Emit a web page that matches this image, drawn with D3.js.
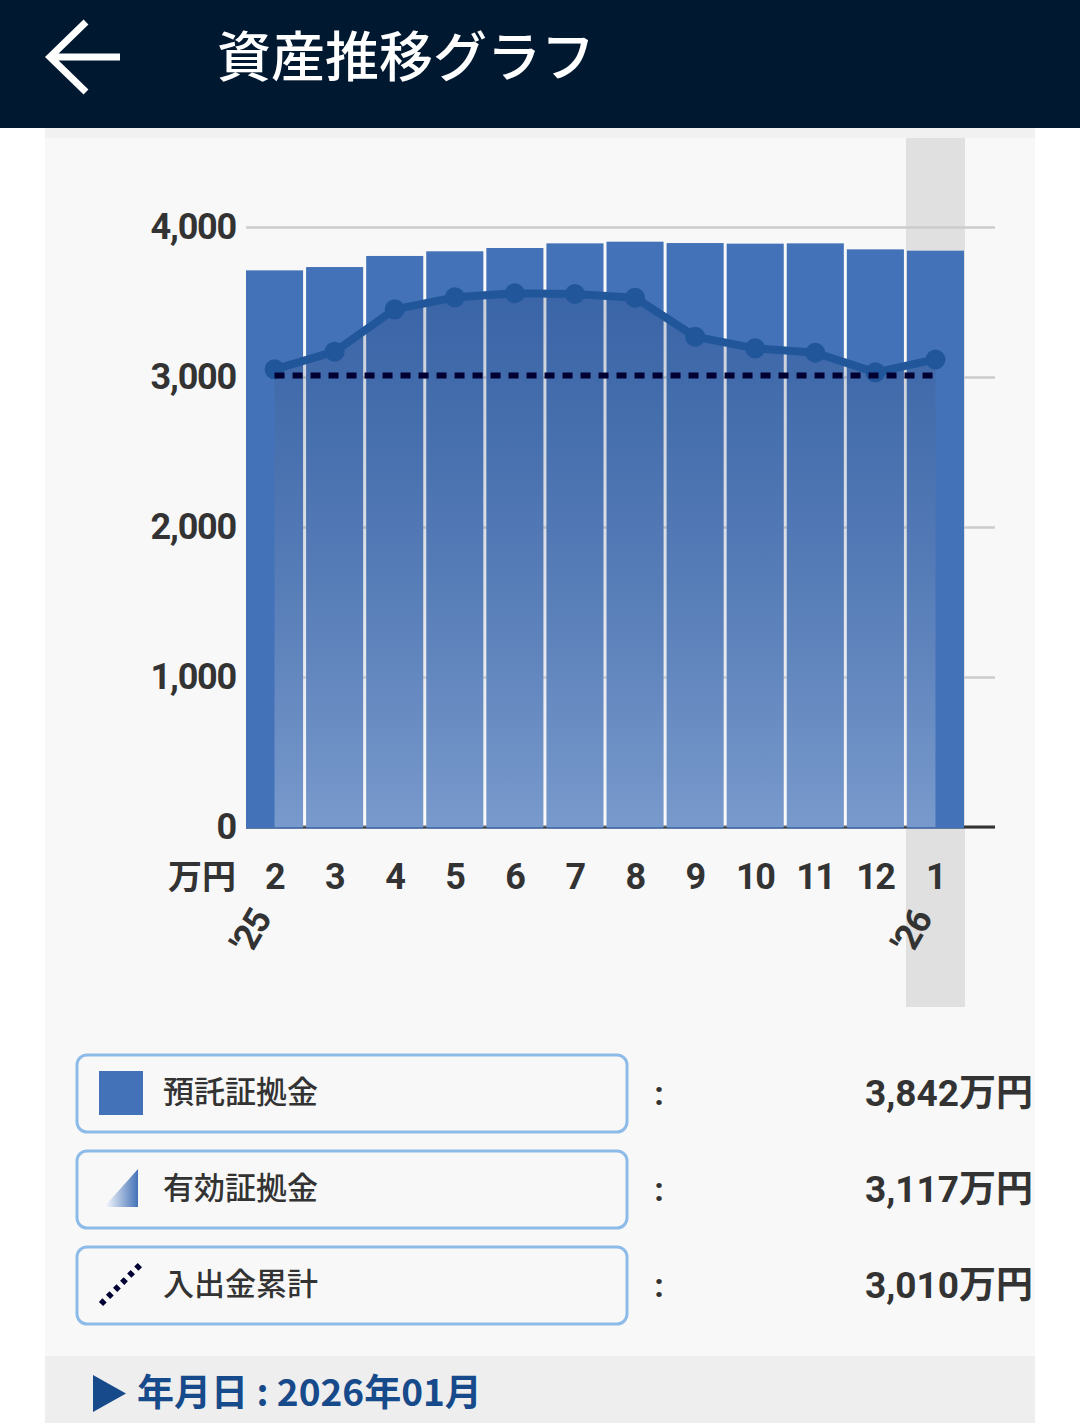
<!DOCTYPE html>
<html lang="ja">
<head>
<meta charset="utf-8">
<title>資産推移グラフ</title>
<script src="https://cdn.jsdelivr.net/npm/d3@7"></script>
<style>
  html, body { margin: 0; padding: 0; background: #fff; }
  svg { display: block; }
</style>
</head>
<body>
<svg id="chart" width="1080" height="1423"></svg>
<script>
// 月ごとのデータ（万円）
const months = ["2", "3", "4", "5", "6", "7", "8", "9", "10", "11", "12", "1"];
const yearLabels = ["'25", "", "", "", "", "", "", "", "", "", "", "'26"];
const deposit = [3711, 3733, 3807, 3838, 3860, 3891, 3902, 3893, 3889, 3891, 3851, 3842];
const effective = [3051, 3169, 3451, 3531, 3558, 3553, 3529, 3269, 3191, 3162, 3031, 3117];
const cumulative = [3010, 3010, 3010, 3010, 3010, 3010, 3010, 3010, 3010, 3010, 3010, 3010];
const yTicks = [0, 1000, 2000, 3000, 4000];
const unitLabel = "万円";
const legendNames = ["預託証拠金", "有効証拠金", "入出金累計"];
const legendValues = ["3,842万円", "3,117万円", "3,010万円"];
const selectedIndex = 11;
const titleText = "資産推移グラフ";
const dateText = "年月日 : 2026年01月";

const NUM_FONT = "Roboto, 'Noto Sans CJK JP', sans-serif";
const JP_FONT = "'Noto Sans CJK JP', 'Noto Sans', sans-serif";
const BAR = "#4472b8";
const TEXT = "#333333";

const svg = d3.select("#chart");

function drawFrame() {
  // 背景パネル
  svg.append("rect").attr("x", 45).attr("y", 128).attr("width", 990).attr("height", 1295).attr("fill", "#f8f8f8");
  svg.append("rect").attr("x", 45).attr("y", 128).attr("width", 990).attr("height", 10).attr("fill", "#f1f1f1");

  // ヘッダー
  svg.append("rect").attr("x", 0).attr("y", 0).attr("width", 1080).attr("height", 128).attr("fill", "#011831");
  svg.append("path")
    .attr("d", "M86,22 L50,57 L86,92 M50,57 L120,57")
    .attr("fill", "none")
    .attr("stroke", "#fff")
    .attr("stroke-width", 7);
  svg.append("text")
    .attr("x", 217).attr("y", 77)
    .attr("fill", "#fff")
    .style("font-family", JP_FONT)
    .style("font-size", "54px")
    .style("font-weight", 500)
    .text(titleText);

  // 下部の日付バー
  svg.append("rect").attr("x", 45).attr("y", 1356).attr("width", 990).attr("height", 67).attr("fill", "#eeeeee");
  svg.append("path").attr("d", "M93,1375 L126,1393.5 L93,1412 Z").attr("fill", "#174a8a");
  svg.append("text")
    .attr("x", 137).attr("y", 1406)
    .attr("fill", "#174a8a")
    .style("font-family", JP_FONT)
    .style("font-size", "37px")
    .style("font-weight", 700)
    .text(dateText);
}

function drawChart() {
  const x = d3.scaleBand().domain(d3.range(months.length)).range([246, 964]).paddingInner(0.05);
  const y = d3.scaleLinear().domain([0, 4000]).range([827, 227]);
  const cx = (i) => x(i) + x.bandwidth() / 2;

  // 選択中の月のハイライト
  svg.append("rect")
    .attr("x", x(selectedIndex) - 1)
    .attr("y", 138)
    .attr("width", x.bandwidth() + 2)
    .attr("height", 869)
    .attr("fill", "#e0e0e0");

  // グリッド
  const grid = svg.append("g")
    .attr("transform", "translate(246,0)")
    .call(d3.axisRight(y).tickValues(yTicks).tickSize(749).tickFormat(""));
  grid.select(".domain").remove();
  grid.selectAll("line").attr("stroke", "#cccccc").attr("stroke-width", 2.5);

  svg.append("line")
    .attr("x1", 246).attr("x2", 995).attr("y1", y(0)).attr("y2", y(0))
    .attr("stroke", "#333").attr("stroke-width", 3);

  // 預託証拠金（棒）
  svg.append("g")
    .selectAll("rect")
    .data(deposit)
    .join("rect")
    .attr("x", (d, i) => x(i))
    .attr("y", (d) => y(d))
    .attr("width", x.bandwidth())
    .attr("height", (d) => y(0) - y(d) + 1.5)
    .attr("fill", BAR);

  // 有効証拠金（面 + 線）
  const defs = svg.append("defs");
  const grad = defs.append("linearGradient")
    .attr("id", "areaGrad")
    .attr("gradientUnits", "userSpaceOnUse")
    .attr("x1", 0).attr("x2", 0).attr("y1", y(3600)).attr("y2", y(0));
  grad.append("stop").attr("offset", "0%").attr("stop-color", "rgb(15,45,95)").attr("stop-opacity", 0.2);
  grad.append("stop").attr("offset", "100%").attr("stop-color", "#ffffff").attr("stop-opacity", 0.28);

  const area = d3.area()
    .x((d, i) => cx(i))
    .y0(y(0))
    .y1((d) => y(d));
  svg.append("path").datum(effective).attr("d", area).attr("fill", "url(#areaGrad)");

  const line = d3.line().x((d, i) => cx(i)).y((d) => y(d));
  svg.append("path")
    .datum(effective)
    .attr("d", line)
    .attr("fill", "none")
    .attr("stroke", "#21579a")
    .attr("stroke-width", 8)
    .attr("stroke-linejoin", "round");
  svg.append("g")
    .selectAll("circle")
    .data(effective)
    .join("circle")
    .attr("cx", (d, i) => cx(i))
    .attr("cy", (d) => y(d))
    .attr("r", 10)
    .attr("fill", "#21579a");

  // 入出金累計（点線）
  svg.append("path")
    .datum(cumulative)
    .attr("d", line)
    .attr("fill", "none")
    .attr("stroke", "#000033")
    .attr("stroke-width", 6)
    .attr("stroke-dasharray", "10,8");

  // 軸ラベル
  const axisY = svg.append("g")
    .attr("transform", "translate(246,0)")
    .call(d3.axisLeft(y).tickValues(yTicks).tickFormat(d3.format(",")).tickSize(0).tickPadding(10));
  axisY.select(".domain").remove();
  axisY.selectAll("text")
    .attr("fill", TEXT)
    .style("font-family", NUM_FONT)
    .style("font-size", "36px")
    .style("font-weight", 700)
    .style("letter-spacing", "-1.2px");

  const axisX = svg.append("g")
    .attr("transform", `translate(0,${y(0)})`)
    .call(d3.axisBottom(x).tickFormat((i) => months[i]).tickSize(0).tickPadding(36));
  axisX.select(".domain").remove();
  axisX.selectAll("text")
    .attr("fill", TEXT)
    .style("font-family", NUM_FONT)
    .style("font-size", "36px")
    .style("font-weight", 700)
    .style("letter-spacing", "-1.5px");

  svg.append("text")
    .attr("x", 236).attr("y", 889)
    .attr("text-anchor", "end")
    .attr("fill", TEXT)
    .style("font-family", JP_FONT)
    .style("font-size", "34px")
    .style("font-weight", 700)
    .text(unitLabel);

  svg.append("g")
    .selectAll("text")
    .data(yearLabels.map((t, i) => ({ t, i })).filter((d) => d.t))
    .join("text")
    .attr("transform", (d) => `translate(${cx(d.i) - 24},931) rotate(-60)`)
    .attr("text-anchor", "middle")
    .attr("dy", "0.35em")
    .attr("fill", TEXT)
    .style("font-family", NUM_FONT)
    .style("font-size", "36px")
    .style("font-weight", 700)
    .style("letter-spacing", "-1.5px")
    .text((d) => d.t);
}

function drawLegend() {
  const rowY = d3.scalePoint().domain(d3.range(legendNames.length)).range([1054, 1246]);
  const defs = svg.select("defs");
  const triGrad = defs.append("linearGradient").attr("id", "triGrad").attr("x1", 0).attr("x2", 1).attr("y1", 0).attr("y2", 0);
  triGrad.append("stop").attr("offset", "0%").attr("stop-color", "#ffffff");
  triGrad.append("stop").attr("offset", "100%").attr("stop-color", BAR);

  const rows = svg.append("g")
    .selectAll("g")
    .data(legendNames)
    .join("g")
    .attr("transform", (d, i) => `translate(0,${rowY(i)})`);

  rows.append("rect")
    .attr("x", 77).attr("y", 1)
    .attr("width", 550).attr("height", 77)
    .attr("rx", 10)
    .attr("fill", "#f8f8f8")
    .attr("stroke", "#8dbbe8")
    .attr("stroke-width", 3);

  rows.append("text")
    .attr("x", 163).attr("y", 49)
    .attr("fill", TEXT)
    .style("font-family", JP_FONT)
    .style("font-size", "31px")
    .style("font-weight", 500)
    .text((d) => d);

  rows.append("text")
    .attr("x", 659).attr("y", 51)
    .attr("text-anchor", "middle")
    .attr("fill", TEXT)
    .style("font-family", NUM_FONT)
    .style("font-size", "34px")
    .style("font-weight", 700)
    .text(":");

  rows.append("text")
    .attr("x", 1033).attr("y", 52)
    .attr("text-anchor", "end")
    .attr("fill", TEXT)
    .style("font-family", NUM_FONT)
    .style("font-size", "37px")
    .style("font-weight", 700)
    .text((d, i) => legendValues[i]);

  // アイコン
  rows.filter((d, i) => i === 0).append("rect")
    .attr("x", 99).attr("y", 17).attr("width", 44).attr("height", 44).attr("fill", BAR);
  rows.filter((d, i) => i === 1).append("path")
    .attr("d", "M104,57 L138,57 L138,19 Z").attr("fill", "url(#triGrad)");
  rows.filter((d, i) => i === 2).append("line")
    .attr("x1", 101).attr("y1", 58).attr("x2", 142).attr("y2", 17)
    .attr("stroke", "#000033")
    .attr("stroke-width", 6)
    .attr("stroke-dasharray", "5,5");
}

drawFrame();
drawChart();
drawLegend();
</script>
</body>
</html>
